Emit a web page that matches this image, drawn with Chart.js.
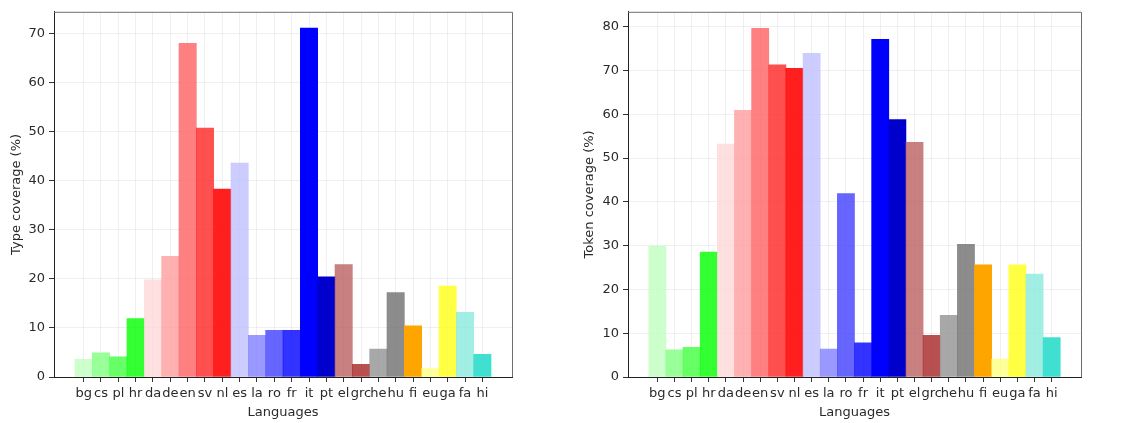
<!DOCTYPE html>
<html lang="en">
<head>
    <meta charset="UTF-8">
    <title>Language coverage</title>
    <script src="https://cdn.jsdelivr.net/npm/chart.js"></script>
    <style>
        body {
            margin: 0;
            background: #fff;
        }
        .panel {
            position: absolute;
            top: 0;
        }
    </style>
</head>
<body>
    <div class="panel" style="left:0px"><canvas id="typeChart" width="560" height="423"></canvas></div>
    <div class="panel" style="left:560px"><canvas id="tokenChart" width="566" height="423"></canvas></div>

    <script>
        // Languages on the x axis
        const languages = ['bg', 'cs', 'pl', 'hr', 'da', 'de', 'en', 'sv', 'nl', 'es', 'la', 'ro',
                           'fr', 'it', 'pt', 'el', 'grc', 'he', 'hu', 'fi', 'eu', 'ga', 'fa', 'hi'];

        // Type coverage (%) - left panel
        const typeCoverage = [3.6, 4.9, 4.1, 11.9, 19.8, 24.6, 68.0, 50.7, 38.3, 43.6, 8.5, 9.5,
                              9.5, 71.1, 20.4, 22.9, 2.6, 5.7, 17.2, 10.4, 1.7, 18.5, 13.2, 4.6];

        // Token coverage (%) - right panel
        const tokenCoverage = [29.9, 6.2, 6.8, 28.5, 53.2, 60.9, 79.6, 71.3, 70.5, 73.9, 6.4, 41.9,
                               7.8, 77.1, 58.8, 53.6, 9.5, 14.1, 30.3, 25.6, 4.1, 25.6, 23.5, 9.0];

        // One colour per language
        const barColors = [
            'rgba(191,255,191,0.8)', 'rgba(128,255,128,0.8)', 'rgba(64,255,64,0.8)', 'rgba(0,255,0,0.8)',
            'rgba(255,216,216,0.8)', 'rgba(255,156,156,0.8)', 'rgba(255,96,96,0.8)', 'rgba(255,36,36,0.8)',
            'rgba(255,0,0,0.88)', 'rgba(191,191,255,0.8)', 'rgba(128,128,255,0.8)', 'rgba(64,64,255,0.8)',
            'rgba(0,0,255,0.8)', 'rgba(0,0,255,1)', 'rgba(0,0,204,1)', 'rgba(186,96,96,0.8)',
            'rgba(166,36,36,0.8)', 'rgba(146,146,146,0.8)', 'rgba(111,111,111,0.8)', 'rgba(255,165,0,1)',
            'rgba(255,255,128,0.8)', 'rgba(255,255,21,0.8)', 'rgba(136,234,221,0.8)', 'rgba(64,224,208,1)'
        ];

        const textColor = '#2a2a2a';
        const font = { family: 'DejaVu Sans', size: 13 };

        // top and right spines are drawn in grey
        const framePlugin = {
            id: 'frame',
            afterDraw(chart) {
                const { ctx, chartArea: a } = chart;
                ctx.save();
                ctx.strokeStyle = '#6e6e6e';
                ctx.lineWidth = 1;
                ctx.beginPath();
                ctx.moveTo(a.left, a.top + 0.5);
                ctx.lineTo(a.right + 0.5, a.top + 0.5);
                ctx.lineTo(a.right + 0.5, a.bottom);
                ctx.stroke();
                ctx.restore();
            }
        };

        function makeChart(id, values, yTitle, yMax, yWidth, rightPad, titlePad) {
            const ctx = document.getElementById(id).getContext('2d');
            return new Chart(ctx, {
                type: 'bar',
                data: {
                    datasets: [{
                        data: values.map((v, i) => ({ x: i, y: v })),
                        backgroundColor: barColors,
                        borderWidth: 0,
                        barPercentage: 1,
                        categoryPercentage: 1
                    }]
                },
                options: {
                    responsive: false,
                    animation: false,
                    devicePixelRatio: 1,
                    layout: { padding: { top: 11, right: rightPad, left: 0, bottom: 0 } },
                    plugins: { legend: { display: false }, tooltip: { enabled: false } },
                    scales: {
                        x: {
                            type: 'linear',
                            min: -1.71,
                            max: 24.71,
                            offset: false,
                            afterBuildTicks: scale => {
                                scale.ticks = languages.map((_, i) => ({ value: i }));
                            },
                            afterFit: scale => { scale.height = 46; },
                            ticks: {
                                autoSkip: false,
                                maxRotation: 0,
                                minRotation: 0,
                                padding: 4,
                                color: textColor,
                                font: font,
                                callback: v => languages[v]
                            },
                            grid: {
                                offset: false,
                                color: 'rgba(0,0,0,0.06)',
                                tickColor: '#333',
                                tickLength: 5
                            },
                            border: { color: '#222', width: 1 },
                            title: {
                                display: true,
                                text: 'Languages',
                                color: textColor,
                                font: font,
                                padding: { top: 0, bottom: 3 }
                            }
                        },
                        y: {
                            min: 0,
                            max: yMax,
                            afterFit: scale => { scale.width = yWidth; },
                            ticks: {
                                stepSize: 10,
                                includeBounds: false,
                                padding: 4,
                                color: textColor,
                                font: font
                            },
                            grid: {
                                color: 'rgba(0,0,0,0.06)',
                                tickColor: '#333',
                                tickLength: 5
                            },
                            border: { color: '#222', width: 1 },
                            title: {
                                display: true,
                                text: yTitle,
                                color: textColor,
                                font: font,
                                padding: { top: titlePad, bottom: 0 }
                            }
                        }
                    }
                },
                plugins: [framePlugin]
            });
        }

        makeChart('typeChart', typeCoverage, 'Type coverage (%)', 74.4, 54, 48, 9);
        makeChart('tokenChart', tokenCoverage, 'Token coverage (%)', 83.4, 68, 45, 22);
    </script>
</body>
</html>
